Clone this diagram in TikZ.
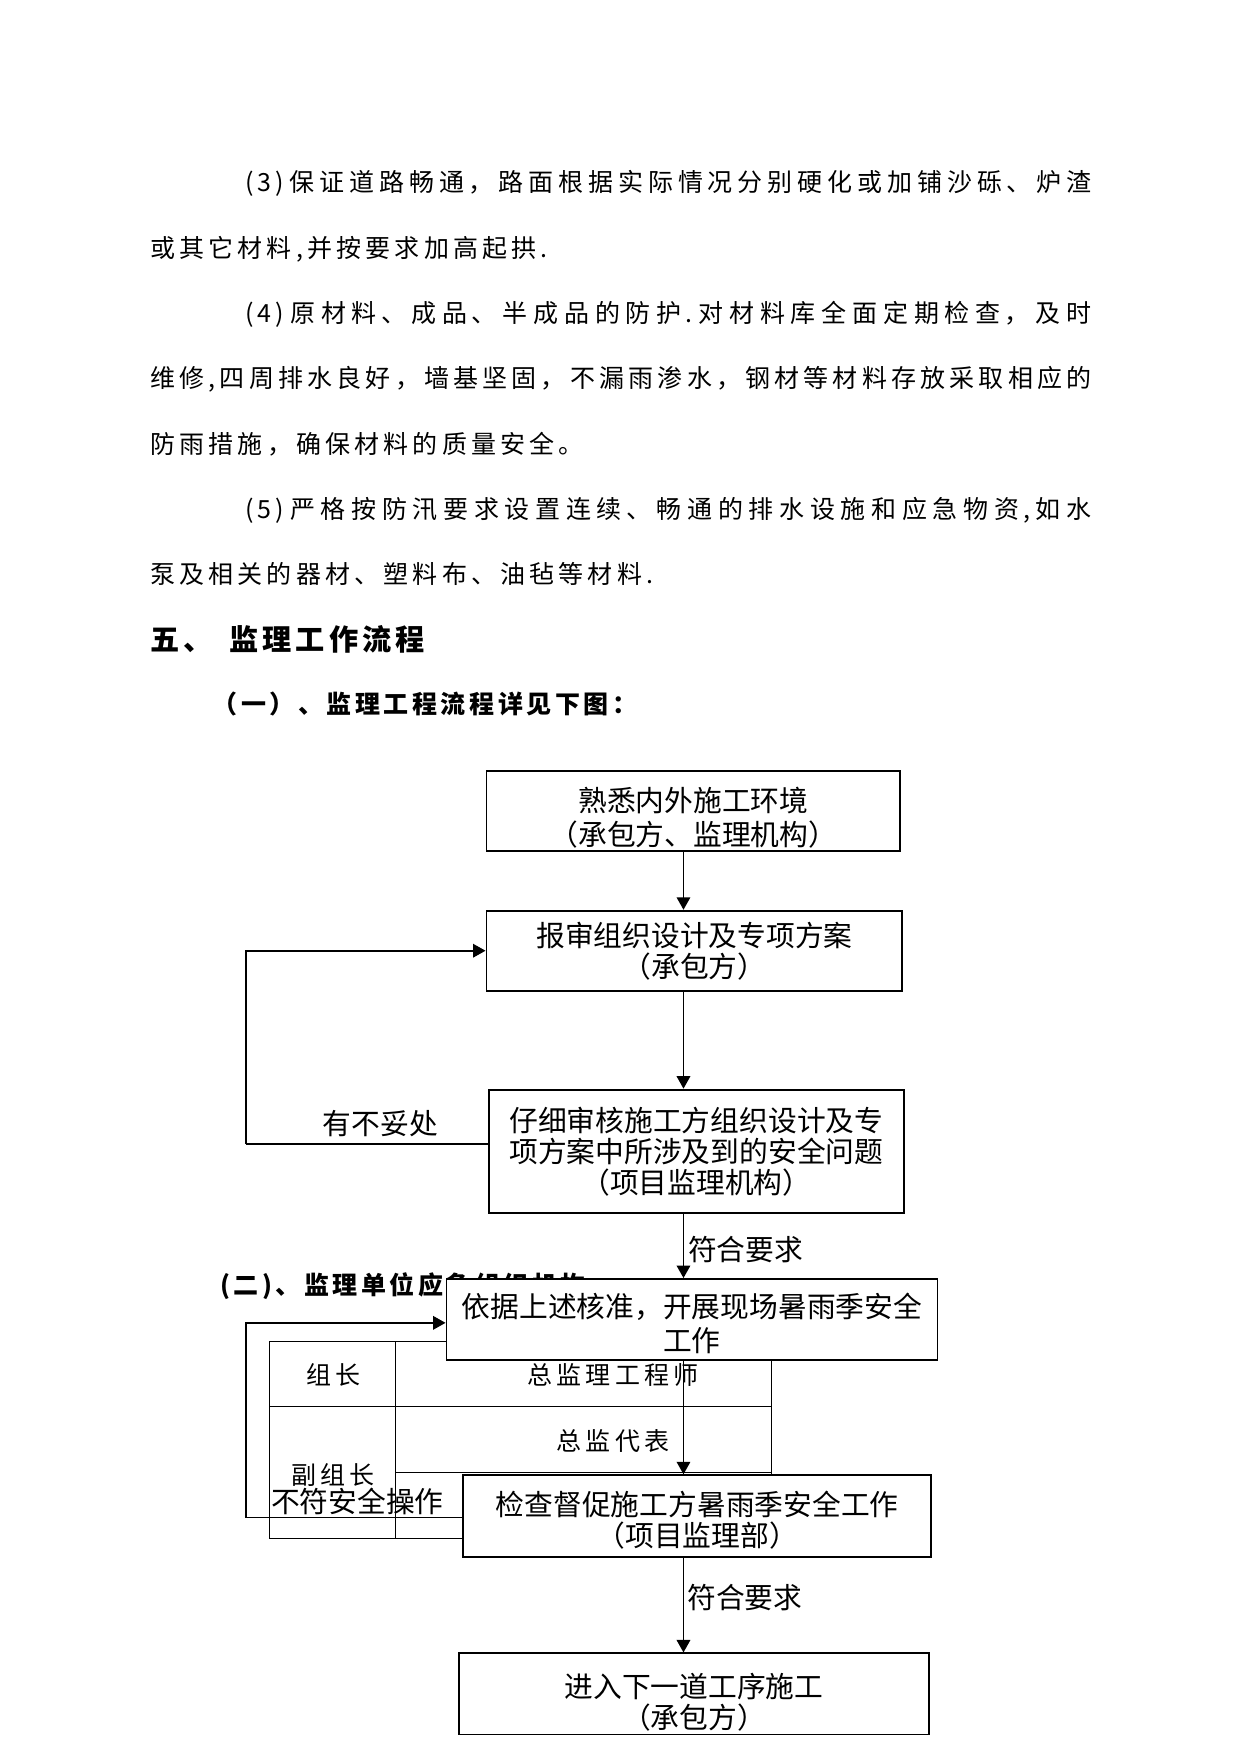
\documentclass[tikz,border=0pt]{standalone}
\usepackage{fontspec}
\setmainfont{Noto Sans CJK SC}
\newfontfamily\bodyfont{Noto Sans CJK SC}[LetterSpace=16.7]
\newfontfamily\headfont{Noto Sans CJK SC}[LetterSpace=14]
\XeTeXlinebreaklocale "zh"
\XeTeXlinebreakskip=0pt plus 3pt minus 0.5pt
\newcommand\flowfont{\fontsize{13.8pt}{14.9pt}\selectfont}
\newcommand\bodyskip{\XeTeXlinebreakskip=2pt plus 3pt minus 0.6pt\relax}
\usetikzlibrary{arrows.meta,positioning}
\tikzset{
  bodypara/.style={
    anchor=base west,
    inner sep=0pt,
    text width=451.7pt,
    align=justify,
    font=\bodyfont\fontsize{12pt}{31.31pt}\selectfont\bodyskip
  },
  headline/.style={
    anchor=base west,
    inner sep=0pt
  },
  flowbox/.style={
    draw=black,
    fill=white,
    line width=0.9pt,
    align=center,
    inner sep=0pt,
    font=\flowfont
  },
  flowlabel/.style={
    inner sep=0pt,
    font=\flowfont
  },
  celltext/.style={
    inner sep=0pt,
    font=\bodyfont\fontsize{12pt}{14pt}\selectfont
  },
  flowarrow/.style={
    draw=black,
    line width=0.8pt,
    -{Triangle[length=6pt,width=6.5pt]}
  },
  thinline/.style={
    draw=black,
    line width=0.5pt
  },
  tabline/.style={
    draw=black,
    line width=0.5pt
  }
}

\begin{document}
\begin{tikzpicture}[x=0.5368pt,y=-0.5368pt]
  \fill[white] (0,0) rectangle (1109,1568);
  \node[bodypara] (para3) at (134,171.5) {\hspace*{45.6pt}(3)保证道路畅通，路面根据实际情况分别硬化或加铺沙砾、炉渣\linebreak 或其它材料,并按要求加高起拱.};
  \node[bodypara] (para4) at (134,288.5) {\hspace*{45.6pt}(4)原材料、成品、半成品的防护.对材料库全面定期检查，及时\linebreak 维修,四周排水良好，墙基坚固，不漏雨渗水，钢材等材料存放采取相应的\linebreak 防雨措施，确保材料的质量安全。};
  \node[bodypara] (para5) at (134,463.5) {\hspace*{45.6pt}(5)严格按防汛要求设置连续、畅通的排水设施和应急物资,如水\linebreak 泵及相关的器材、塑料布、油毡等材料.};
  \node[headline,font=\headfont\bfseries\fontsize{14pt}{16pt}\selectfont] (sec5) at (134,581.9) {五、\hspace{8pt}监理工作流程};
  \node[headline,font=\headfont\bfseries\fontsize{12pt}{14pt}\selectfont] (sub1) at (190,638) {（一）、监理工程流程详见下图：};
  \node[headline,font=\headfont\bfseries\fontsize{12pt}{14pt}\selectfont] (sub2) at (196.5,1156.9) {(二)、监理单位应急组织机构};

  \draw[tabline] (240.7,1199) rectangle (690,1375.6);
  \draw[tabline] (353.6,1199) -- (353.6,1375.6);
  \draw[tabline] (240.7,1257.7) -- (690,1257.7);
  \draw[tabline] (353.6,1316.6) -- (690,1316.6);
  \node[celltext] (lead) at (297.9,1228.8) {组长};
  \node[celltext] (chief) at (548,1228.8) {总监理工程师};
  \node[celltext] (deputy) at (297.9,1318.8) {副组长};
  \node[celltext] (proxy) at (548,1288.4) {总监代表};

  \node[flowbox,minimum width=198.6pt,minimum height=38.4pt] (box1) at (619.9,724.8) {\rule{0pt}{18.3pt}熟悉内外施工环境\\[1.5pt]（承包方、监理机构）};
  \node[flowbox,minimum width=199.6pt,minimum height=38.4pt] (box2) at (620.8,849.9) {报审组织设计及专项方案\\（承包方）};
  \node[flowbox,minimum width=199.1pt,minimum height=59.2pt] (box3) at (622.5,1029.2) {仔细审核施工方组织设计及专\\项方案中所涉及到的安全问题\\（项目监理机构）};
  \node[flowbox,minimum width=235.6pt,minimum height=38.7pt] (box4) at (618.6,1179.4) {\rule{0pt}{15.9pt}依据上述核准，开展现场暑雨季安全\\[1.3pt]工作};
  \node[flowbox,minimum width=224.7pt,minimum height=39.3pt] (box5) at (623.3,1355.4) {\rule{0pt}{15.9pt}检查督促施工方暑雨季安全工作\\（项目监理部）};
  \node[flowbox,minimum width=225.3pt,minimum height=38.9pt] (box6) at (620.4,1514.3) {\rule{0pt}{19.4pt}进入下一道工序施工\\（承包方）};

  \coordinate (spine) at (611,0);
  \coordinate (lane) at (219.7,0);
  \foreach \from/\to in {box1/box2,box2/box3,box3/box4,box4/box5,box5/box6}{\draw[flowarrow] (\from.south -| spine) -- (\to.north -| spine);}

  \draw[thinline] ([yshift=3.5pt]box3.west) coordinate (fromA) -- (fromA -| lane) coordinate (turnA);
  \draw[flowarrow] (turnA) |- (box2.west);
  \draw[thinline] ([yshift=-0.8pt]box5.west) coordinate (fromB) -- (fromB -| lane) coordinate (turnB);
  \draw[flowarrow] (turnB) |- ([yshift=-1.7pt]box4.west);

  \node[flowlabel] (flaw) at (340,1004.5) {有不妥处};
  \node[flowlabel] (unsafe) at (319.5,1342) {不符安全操作};
  \node[flowlabel] (passA) at (666.5,1117) {符合要求};
  \node[flowlabel] (passB) at (665.8,1428.4) {符合要求};
\end{tikzpicture}
\end{document}
